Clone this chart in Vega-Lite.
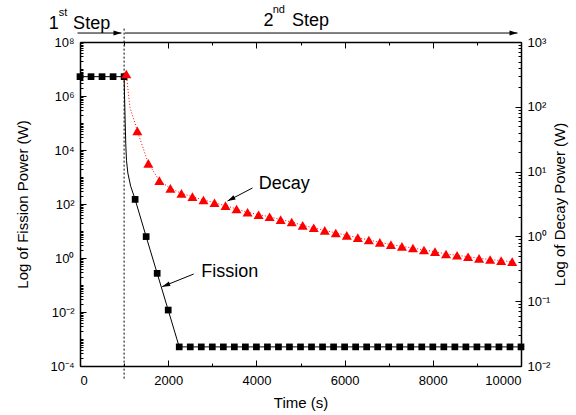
{
  "$schema": "https://vega.github.io/schema/vega-lite/v6.json",
  "width": 441,
  "height": 324,
  "autosize": "none",
  "padding": {"left": 80, "top": 42, "right": 55, "bottom": 49},
  "background": "white",
  "config": {
    "view": {"stroke": null},
    "font": "Liberation Sans",
    "axis": {
      "grid": false,
      "domainColor": "black",
      "domainWidth": 1.5,
      "tickColor": "black",
      "tickWidth": 1,
      "labelColor": "black",
      "labelFont": "Liberation Sans",
      "labelFontSize": 13,
      "labelOverlap": false,
      "titleColor": "black",
      "titleFont": "Liberation Sans",
      "titleFontSize": 15,
      "titleFontWeight": "normal"
    }
  },
  "datasets": {
    "fission_pts": [
      {"t": 0, "v": 5200000}, {"t": 250, "v": 5200000}, {"t": 500, "v": 5200000}, {"t": 750, "v": 5200000}, {"t": 1000, "v": 5200000},
      {"t": 1250, "v": 148}, {"t": 1500, "v": 6.2}, {"t": 1750, "v": 0.27}, {"t": 2000, "v": 0.0118},
      {"t": 2250, "v": 0.00051}, {"t": 2500, "v": 0.00051}, {"t": 2750, "v": 0.00051}, {"t": 3000, "v": 0.00051},
      {"t": 3250, "v": 0.00051}, {"t": 3500, "v": 0.00051}, {"t": 3750, "v": 0.00051}, {"t": 4000, "v": 0.00051},
      {"t": 4250, "v": 0.00051}, {"t": 4500, "v": 0.00051}, {"t": 4750, "v": 0.00051}, {"t": 5000, "v": 0.00051},
      {"t": 5250, "v": 0.00051}, {"t": 5500, "v": 0.00051}, {"t": 5750, "v": 0.00051}, {"t": 6000, "v": 0.00051},
      {"t": 6250, "v": 0.00051}, {"t": 6500, "v": 0.00051}, {"t": 6750, "v": 0.00051}, {"t": 7000, "v": 0.00051},
      {"t": 7250, "v": 0.00051}, {"t": 7500, "v": 0.00051}, {"t": 7750, "v": 0.00051}, {"t": 8000, "v": 0.00051},
      {"t": 8250, "v": 0.00051}, {"t": 8500, "v": 0.00051}, {"t": 8750, "v": 0.00051}, {"t": 9000, "v": 0.00051},
      {"t": 9250, "v": 0.00051}, {"t": 9500, "v": 0.00051}, {"t": 9750, "v": 0.00051}, {"t": 10000, "v": 0.00051}
    ],
    "fission_line": [
      {"t": 0, "v": 5200000}, {"t": 1000, "v": 5200000}, {"t": 1010, "v": 1000000}, {"t": 1025, "v": 100000},
      {"t": 1040, "v": 13000}, {"t": 1055, "v": 4000}, {"t": 1085, "v": 1400}, {"t": 1150, "v": 450},
      {"t": 1250, "v": 148}, {"t": 1500, "v": 6.2}, {"t": 1750, "v": 0.27}, {"t": 2000, "v": 0.0118},
      {"t": 2250, "v": 0.00051}, {"t": 10000, "v": 0.00051}
    ],
    "decay_pts": [
      {"t": 1050, "v": 321}, {"t": 1300, "v": 42.4}, {"t": 1550, "v": 13.4}, {"t": 1800, "v": 7.24},
      {"t": 2050, "v": 5.52}, {"t": 2300, "v": 4.62}, {"t": 2550, "v": 4.1}, {"t": 2800, "v": 3.65},
      {"t": 3050, "v": 3.31}, {"t": 3300, "v": 2.98}, {"t": 3550, "v": 2.65}, {"t": 3800, "v": 2.36},
      {"t": 4050, "v": 2.16}, {"t": 4300, "v": 2.01}, {"t": 4550, "v": 1.82}, {"t": 4800, "v": 1.67},
      {"t": 5050, "v": 1.48}, {"t": 5300, "v": 1.36}, {"t": 5550, "v": 1.24}, {"t": 5800, "v": 1.13},
      {"t": 6050, "v": 1.04}, {"t": 6300, "v": 0.955}, {"t": 6550, "v": 0.88}, {"t": 6800, "v": 0.81},
      {"t": 7050, "v": 0.745}, {"t": 7300, "v": 0.703}, {"t": 7550, "v": 0.662}, {"t": 7800, "v": 0.617},
      {"t": 8050, "v": 0.581}, {"t": 8300, "v": 0.535}, {"t": 8550, "v": 0.511}, {"t": 8800, "v": 0.486},
      {"t": 9050, "v": 0.459}, {"t": 9300, "v": 0.44}, {"t": 9550, "v": 0.422}, {"t": 9800, "v": 0.407}
    ],
    "decay_line": [
      {"t": 1050, "v": 321}, {"t": 1130, "v": 100}, {"t": 1300, "v": 42.4}, {"t": 1550, "v": 13.4}, {"t": 1800, "v": 7.24},
      {"t": 2050, "v": 5.52}, {"t": 2300, "v": 4.62}, {"t": 2550, "v": 4.1}, {"t": 2800, "v": 3.65},
      {"t": 3050, "v": 3.31}, {"t": 3300, "v": 2.98}, {"t": 3550, "v": 2.65}, {"t": 3800, "v": 2.36},
      {"t": 4050, "v": 2.16}, {"t": 4300, "v": 2.01}, {"t": 4550, "v": 1.82}, {"t": 4800, "v": 1.67},
      {"t": 5050, "v": 1.48}, {"t": 5300, "v": 1.36}, {"t": 5550, "v": 1.24}, {"t": 5800, "v": 1.13},
      {"t": 6050, "v": 1.04}, {"t": 6300, "v": 0.955}, {"t": 6550, "v": 0.88}, {"t": 6800, "v": 0.81},
      {"t": 7050, "v": 0.745}, {"t": 7300, "v": 0.703}, {"t": 7550, "v": 0.662}, {"t": 7800, "v": 0.617},
      {"t": 8050, "v": 0.581}, {"t": 8300, "v": 0.535}, {"t": 8550, "v": 0.511}, {"t": 8800, "v": 0.486},
      {"t": 9050, "v": 0.459}, {"t": 9300, "v": 0.44}, {"t": 9550, "v": 0.422}, {"t": 9800, "v": 0.407}
    ],
    "big_text": [
      {"t": 4054, "v": 350, "label": "Decay"},
      {"t": 2748, "v": 0.193, "label": "Fission"},
      {"t": -707, "v": 313000000, "label": "1"},
      {"t": -156, "v": 313000000, "label": "Step"},
      {"t": 4161, "v": 402000000, "label": "2"},
      {"t": 4807, "v": 402000000, "label": "Step"}
    ],
    "sup_text": [
      {"t": -480, "v": 918000000, "label": "st"},
      {"t": 4370, "v": 1190000000, "label": "nd"}
    ],
    "arrows": [
      {"name": "decay", "t": 3912, "v": 392, "t2": 3345, "v2": 129},
      {"name": "fission", "t": 2578, "v": 0.255, "t2": 1864, "v2": 0.0865},
      {"name": "step1", "t": -57, "v": 215000000, "t2": 941, "v2": 215000000},
      {"name": "step2", "t": 1020, "v": 215000000, "t2": 9921, "v2": 215000000}
    ],
    "divider": [
      {"t": 1000, "v": 313000000, "v2": 0.00003}
    ]
  },
  "layer": [
    {
      "encoding": {
        "x": {
          "field": "t", "type": "quantitative",
          "scale": {"domain": [0, 10000], "nice": false, "zero": false},
          "axis": {
            "orient": "bottom",
            "title": "Time (s)",
            "values": [0, 1000, 2000, 3000, 4000, 5000, 6000, 7000, 8000, 9000, 10000],
            "format": "d",
            "labelExpr": "datum.value % 2000 == 0 ? datum.label : ''",
            "tickSize": {"condition": {"test": "datum.value % 2000 == 0", "value": -6}, "value": -3},
            "labelPadding": 14,
            "titleBaseline": "middle",
            "titleY": 36
          }
        },
        "y": {
          "field": "v", "type": "quantitative",
          "scale": {"type": "log", "domain": [0.0001, 100000000], "nice": false},
          "axis": {
            "orient": "left",
            "title": "Log of Fission Power (W)",
            "values": [0.0001,0.0002,0.0003,0.0004,0.0005,0.0006,0.0007,0.0008,0.0009,0.001,0.002,0.003,0.004,0.005,0.006,0.007,0.008,0.009,0.01,0.02,0.03,0.04,0.05,0.06,0.07,0.08,0.09,0.1,0.2,0.3,0.4,0.5,0.6,0.7,0.8,0.9,1,2,3,4,5,6,7,8,9,10,20,30,40,50,60,70,80,90,100,200,300,400,500,600,700,800,900,1000,2000,3000,4000,5000,6000,7000,8000,9000,10000,20000,30000,40000,50000,60000,70000,80000,90000,100000,200000,300000,400000,500000,600000,700000,800000,900000,1000000,2000000,3000000,4000000,5000000,6000000,7000000,8000000,9000000,10000000,20000000,30000000,40000000,50000000,60000000,70000000,80000000,90000000,100000000],
            "labelExpr": "(abs(log(datum.value)/LN10 - round(log(datum.value)/LN10)) < 0.001 && round(log(datum.value)/LN10) % 2 == 0) ? '10' + (datum.value < 1 ? '⁻' : '') + ['⁰','¹','²','³','⁴','⁵','⁶','⁷','⁸','⁹'][abs(round(log(datum.value)/LN10))] : ''",
            "tickSize": {"condition": {"test": "abs(log(datum.value)/LN10 - round(log(datum.value)/LN10)) < 0.001 && round(log(datum.value)/LN10) % 2 == 0", "value": -6}, "value": -3},
            "labelPadding": 12,
            "titleAngle": -90,
            "titleBaseline": "middle",
            "titleX": -58,
            "titleY": 162
          }
        }
      },
      "layer": [
        {
          "data": {"name": "divider"},
          "mark": {"type": "rule", "color": "black", "strokeWidth": 1, "strokeDash": [2, 2]},
          "encoding": {"y2": {"field": "v2"}}
        },
        {
          "data": {"name": "fission_line"},
          "mark": {"type": "line", "color": "black", "strokeWidth": 1}
        },
        {
          "data": {"name": "fission_pts"},
          "mark": {"type": "point", "shape": "square", "filled": true, "color": "black", "size": 45, "opacity": 1}
        },
        {
          "data": {"name": "arrows"},
          "mark": {"type": "rule", "color": "black", "strokeWidth": 1},
          "encoding": {"x2": {"field": "t2"}, "y2": {"field": "v2"}}
        },
        {
          "data": {"name": "arrows"},
          "transform": [{"filter": "datum.name == 'step1' || datum.name == 'step2'"}],
          "mark": {"type": "point", "shape": "M0,0L-0.6,2L0.6,2Z", "filled": true, "color": "black", "size": 64, "angle": 90, "opacity": 1},
          "encoding": {"x": {"field": "t2", "type": "quantitative"}, "y": {"field": "v2", "type": "quantitative"}}
        },
        {
          "data": {"name": "arrows"},
          "transform": [{"filter": "datum.name == 'decay'"}],
          "mark": {"type": "point", "shape": "M0,0L-0.6,2L0.6,2Z", "filled": true, "color": "black", "size": 64, "angle": 242.5, "opacity": 1},
          "encoding": {"x": {"field": "t2", "type": "quantitative"}, "y": {"field": "v2", "type": "quantitative"}}
        },
        {
          "data": {"name": "arrows"},
          "transform": [{"filter": "datum.name == 'fission'"}],
          "mark": {"type": "point", "shape": "M0,0L-0.6,2L0.6,2Z", "filled": true, "color": "black", "size": 64, "angle": 248.8, "opacity": 1},
          "encoding": {"x": {"field": "t2", "type": "quantitative"}, "y": {"field": "v2", "type": "quantitative"}}
        },
        {
          "data": {"name": "big_text"},
          "mark": {"type": "text", "align": "left", "baseline": "alphabetic", "fontSize": 18, "font": "Liberation Sans", "color": "black"},
          "encoding": {"text": {"field": "label"}}
        },
        {
          "data": {"name": "sup_text"},
          "mark": {"type": "text", "align": "left", "baseline": "alphabetic", "fontSize": 11, "font": "Liberation Sans", "color": "black"},
          "encoding": {"text": {"field": "label"}}
        }
      ]
    },
    {
      "encoding": {
        "x": {
          "field": "t", "type": "quantitative",
          "scale": {"domain": [0, 10000], "nice": false, "zero": false},
          "axis": {
            "orient": "top",
            "title": null,
            "labels": false,
            "values": [0, 1000, 2000, 3000, 4000, 5000, 6000, 7000, 8000, 9000, 10000],
            "tickSize": {"condition": {"test": "datum.value % 2000 == 0", "value": -6}, "value": -3}
          }
        },
        "y": {
          "field": "v", "type": "quantitative",
          "scale": {"type": "log", "domain": [0.01, 1000], "nice": false},
          "axis": {
            "orient": "right",
            "title": "Log of Decay Power (W)",
            "values": [0.01,0.02,0.03,0.04,0.05,0.06,0.07,0.08,0.09,0.1,0.2,0.3,0.4,0.5,0.6,0.7,0.8,0.9,1,2,3,4,5,6,7,8,9,10,20,30,40,50,60,70,80,90,100,200,300,400,500,600,700,800,900,1000],
            "labelExpr": "(abs(log(datum.value)/LN10 - round(log(datum.value)/LN10)) < 0.001) ? '10' + (datum.value < 0.999 ? '⁻' : '') + ['⁰','¹','²','³','⁴','⁵','⁶','⁷','⁸','⁹'][abs(round(log(datum.value)/LN10))] : ''",
            "tickSize": {"condition": {"test": "abs(log(datum.value)/LN10 - round(log(datum.value)/LN10)) < 0.001", "value": -6}, "value": -3},
            "labelPadding": 12,
            "titleAngle": -90,
            "titleBaseline": "middle",
            "titleX": 38,
            "titleY": 162
          }
        }
      },
      "layer": [
        {
          "data": {"name": "decay_line"},
          "mark": {"type": "line", "color": "#ff0000", "strokeWidth": 1, "strokeDash": [1, 2]}
        },
        {
          "data": {"name": "decay_pts"},
          "mark": {"type": "point", "shape": "triangle-up", "filled": true, "color": "#ff0000", "size": 100, "opacity": 1}
        }
      ]
    }
  ],
  "resolve": {"scale": {"y": "independent"}, "axis": {"x": "independent"}}
}
